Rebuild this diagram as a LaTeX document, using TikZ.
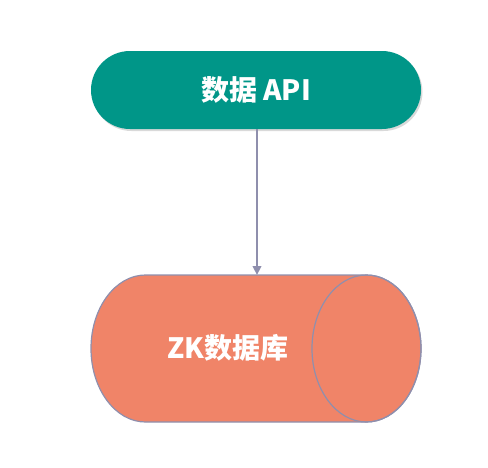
\documentclass[tikz,border=0pt]{standalone}
\usepackage{fontspec}
\setmainfont{Noto Sans CJK SC}
\usetikzlibrary{arrows.meta,shadows}
\definecolor{apigreen}{HTML}{009688}
\definecolor{dbsalmon}{HTML}{F08468}
\definecolor{linegray}{HTML}{8F8FAD}
\begin{document}
\begin{tikzpicture}[x=1pt,y=-1pt,
    apibox/.style={fill=apigreen, rounded corners=39pt, minimum width=330pt, minimum height=78pt,
        text=white, font=\bfseries\fontsize{28}{32}\selectfont,
        drop shadow={opacity=0.3, shadow xshift=1.5pt, shadow yshift=-2pt}},
    dblabel/.style={text=white, font=\bfseries\fontsize{28}{32}\selectfont},
    dbline/.style={draw=linegray, line width=1.2pt}]
    \useasboundingbox (0,0) rectangle (488,467);

    \node[apibox] (api) at (256,90) {数据 API};

    % cylinder lying on its side
    \filldraw[dbline, fill=dbsalmon] (145.5,275) -- (366.5,275)
        arc[start angle=270, end angle=450, x radius=54.5, y radius=73.5]
        -- (145.5,422) arc[start angle=90, end angle=270, x radius=54.5, y radius=73.5] -- cycle;
    \draw[dbline] (366.5,348.5) ellipse[x radius=54.5, y radius=73.5];
    \coordinate (zktop) at (257,275);
    \node[dblabel] (zk) at (228,348) {ZK数据库};

    \draw[linegray, line width=2.5pt, -{Triangle[width=8.5pt,length=9pt]}] (api.south -| zktop) -- (zktop);

\end{tikzpicture}
\end{document}
